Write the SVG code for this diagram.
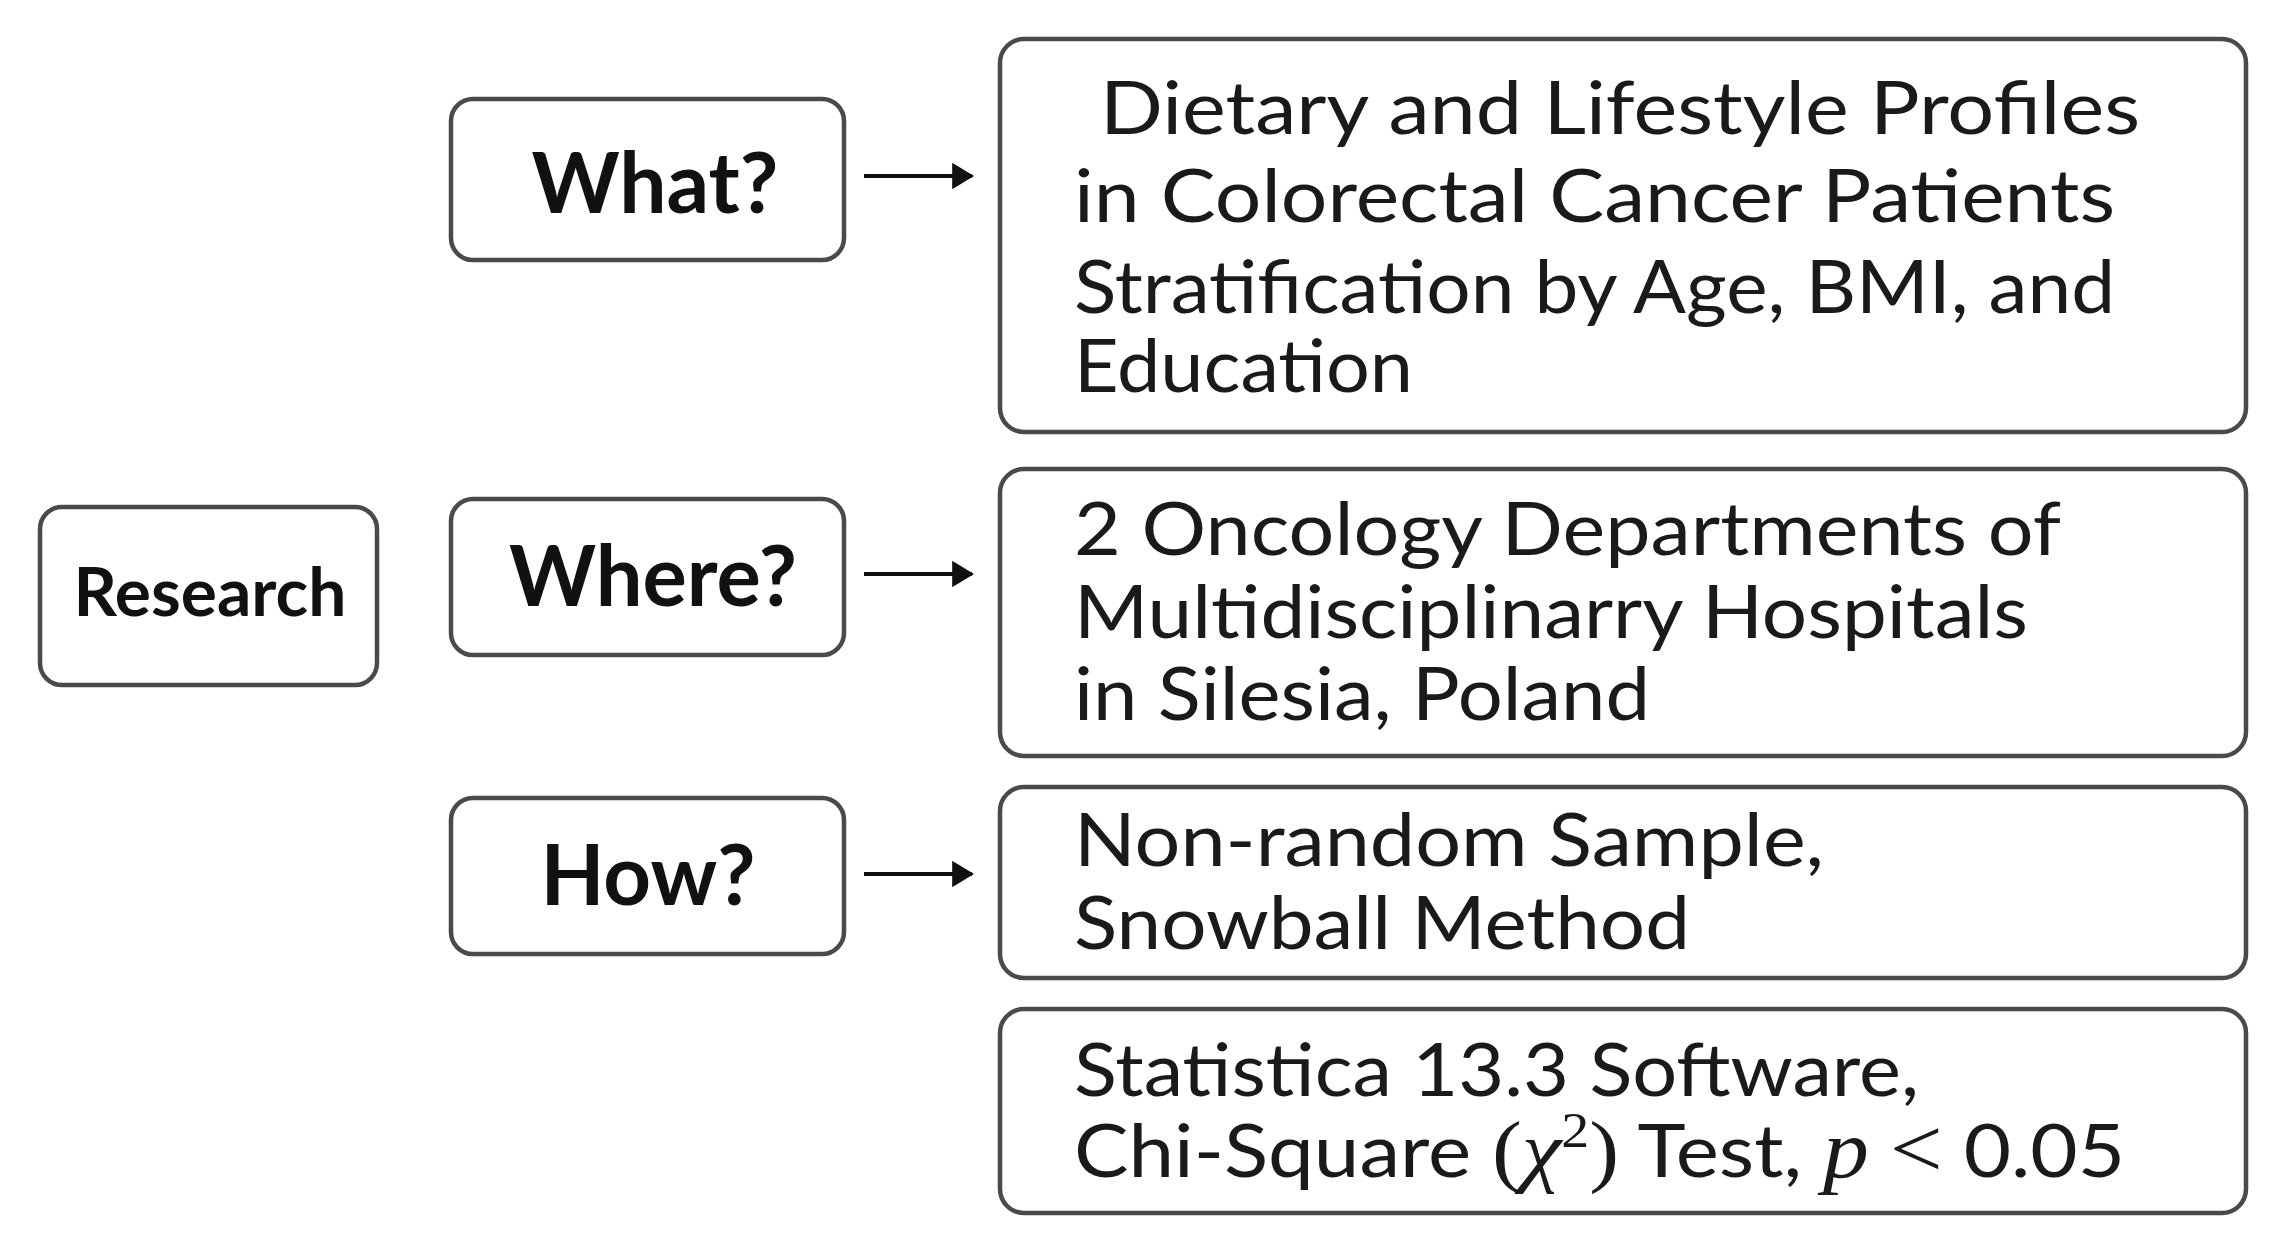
<svg xmlns="http://www.w3.org/2000/svg" width="2279" height="1245" viewBox="0 0 2279 1245">
<style>
.box{fill:#fff;stroke:#4a4a4a;stroke-width:4.5}
.lbl{font-family:Lato,"Liberation Sans",sans-serif;font-weight:bold;fill:#111;text-anchor:middle}
.txt{font-family:Lato,"Liberation Sans",sans-serif;font-size:73px;fill:#1a1a1a}
.math{font-family:"Liberation Serif",serif}
.it{font-style:italic}
.conn{stroke:#111;stroke-width:4;fill:none}
</style>
<defs>
<marker id="ah" viewBox="0 0 10 12" refX="9" refY="6" markerWidth="5.5" markerHeight="6.6" orient="auto" markerUnits="strokeWidth">
<path d="M0,0 L10,6 L0,12 z" fill="#111"/>
</marker>
</defs>
<rect width="2279" height="1245" fill="#fff"/>
<g id="research">
<rect class="box" x="40" y="507" width="337" height="178" rx="22"/>
<text class="lbl" x="210" y="616" font-size="66" textLength="273" lengthAdjust="spacingAndGlyphs">Research</text>
</g>
<g id="what">
<rect class="box" x="451" y="99" width="393" height="161" rx="22"/>
<text class="lbl" x="655" y="213" font-size="84" textLength="247" lengthAdjust="spacingAndGlyphs">What?</text>
</g>
<g id="where">
<rect class="box" x="451" y="499" width="393" height="156" rx="22"/>
<text class="lbl" x="653" y="606" font-size="84" textLength="288" lengthAdjust="spacingAndGlyphs">Where?</text>
</g>
<g id="how">
<rect class="box" x="451" y="798" width="393" height="156" rx="22"/>
<text class="lbl" x="648" y="905" font-size="84" textLength="215" lengthAdjust="spacingAndGlyphs">How?</text>
</g>
<g id="what-detail">
<rect class="box" x="1000" y="39" width="1246" height="393" rx="24"/>
<text class="txt" x="1100" y="134" textLength="1040" lengthAdjust="spacingAndGlyphs">Dietary and Lifestyle Profiles</text>
<text class="txt" x="1074" y="222" textLength="1041" lengthAdjust="spacingAndGlyphs">in Colorectal Cancer Patients</text>
<text class="txt" x="1074" y="313" textLength="1041" lengthAdjust="spacingAndGlyphs">Stratification by Age, BMI, and</text>
<text class="txt" x="1074" y="392" textLength="339" lengthAdjust="spacingAndGlyphs">Education</text>
</g>
<g id="where-detail">
<rect class="box" x="1000" y="469" width="1246" height="287" rx="24"/>
<text class="txt" x="1074" y="555" textLength="987" lengthAdjust="spacingAndGlyphs">2 Oncology Departments of</text>
<text class="txt" x="1074" y="638" textLength="954" lengthAdjust="spacingAndGlyphs">Multidisciplinarry Hospitals</text>
<text class="txt" x="1074" y="720" textLength="576" lengthAdjust="spacingAndGlyphs">in Silesia, Poland</text>
</g>
<g id="how-detail">
<rect class="box" x="1000" y="787" width="1246" height="191" rx="24"/>
<text class="txt" x="1074" y="866" textLength="750" lengthAdjust="spacingAndGlyphs">Non-random Sample,</text>
<text class="txt" x="1074" y="949" textLength="616" lengthAdjust="spacingAndGlyphs">Snowball Method</text>
</g>
<g id="analysis">
<rect class="box" x="1000" y="1009" width="1246" height="204" rx="24"/>
<text class="txt" x="1074" y="1096" textLength="845" lengthAdjust="spacingAndGlyphs">Statistica 13.3 Software,</text>
<text class="txt" x="1074" y="1177" textLength="1051" lengthAdjust="spacingAndGlyphs">Chi-Square <tspan class="math" font-size="80">(</tspan><tspan class="math it" font-size="80">χ</tspan><tspan class="math" font-size="50" dy="-30">2</tspan><tspan class="math" font-size="80" dy="30">)</tspan> Test, <tspan class="math it" font-size="82">p</tspan> <tspan class="math" font-size="84">&lt;</tspan> 0.05</text>
</g>
<g id="connectors">
<line class="conn" x1="864" y1="176" x2="972" y2="176" marker-end="url(#ah)"/>
<line class="conn" x1="864" y1="574" x2="972" y2="574" marker-end="url(#ah)"/>
<line class="conn" x1="864" y1="874" x2="972" y2="874" marker-end="url(#ah)"/>
</g>
</svg>
